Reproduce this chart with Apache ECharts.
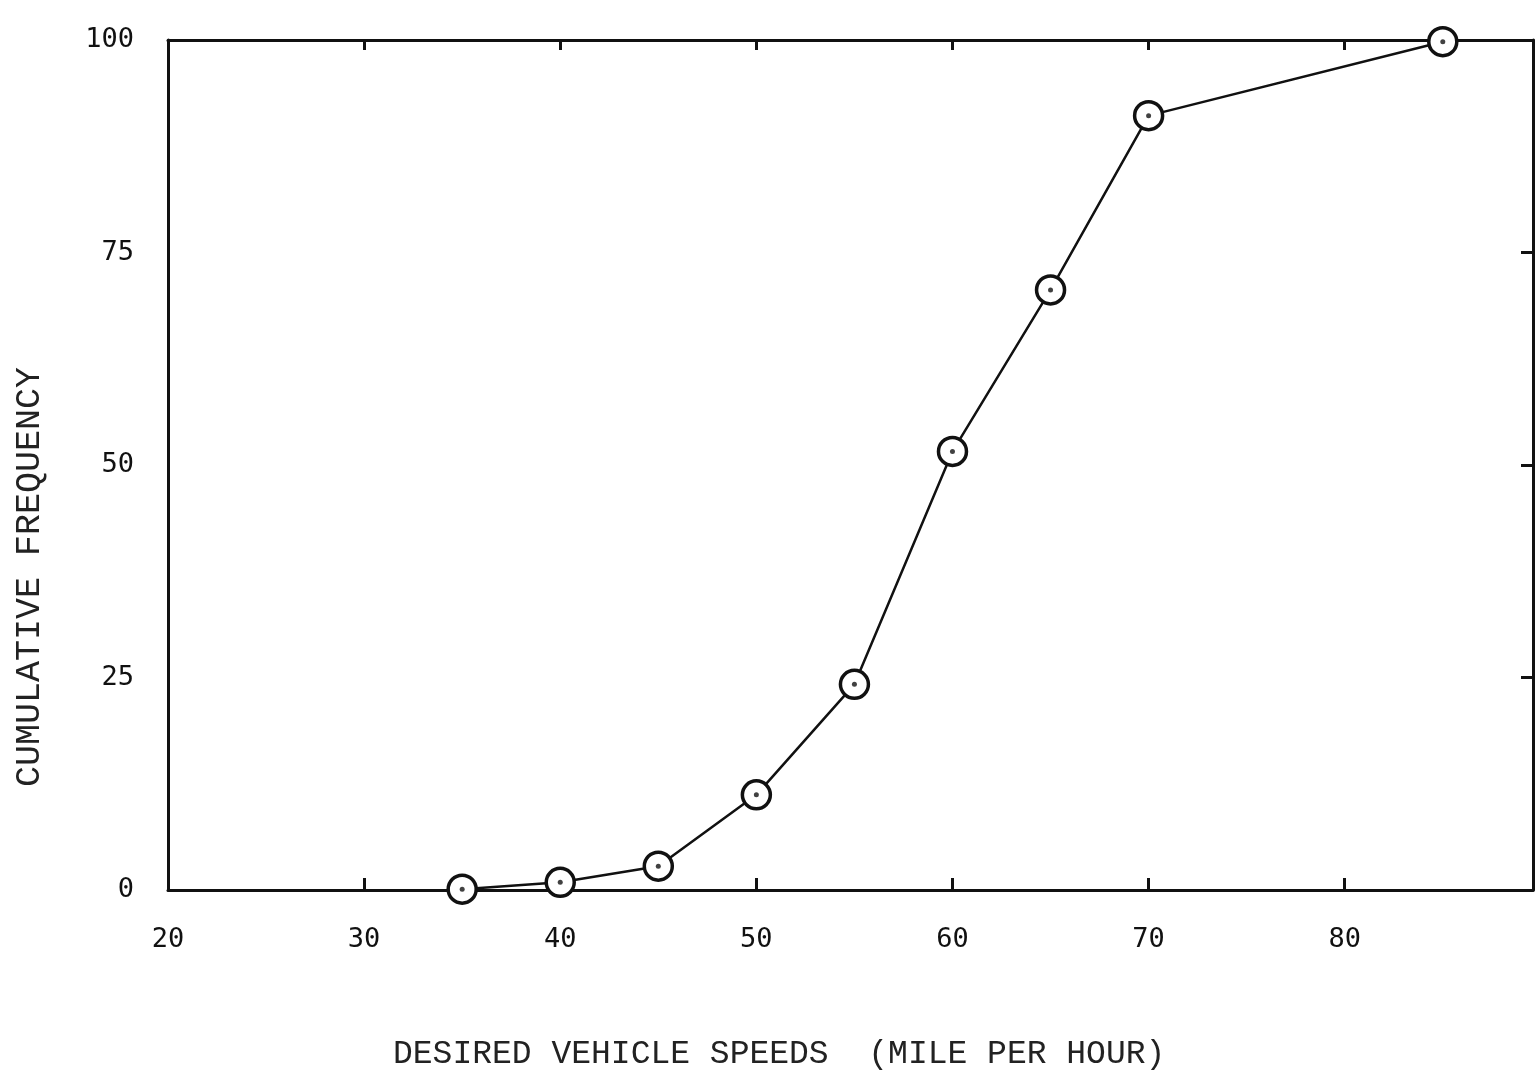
<!DOCTYPE html>
<html>
<head>
<meta charset="utf-8">
<script src="https://cdn.jsdelivr.net/npm/echarts@6/dist/echarts.min.js"></script>
<style>
  html, body { margin: 0; padding: 0; background: #fff; }
  #chart { width: 1535px; height: 1078px; }
</style>
</head>
<body>
<div id="chart"></div>
<script>
// desired speed (mph) vs cumulative frequency (%)
const speeds = [35, 40, 45, 50, 55, 60, 65, 70, 85];
const cumFreq = [0.1, 0.9, 2.8, 11.2, 24.2, 51.6, 70.6, 91.1, 99.8];
const xTitle = "DESIRED VEHICLE SPEEDS  (MILE PER HOUR)";
const yTitle = "CUMULATIVE FREQUENCY";

const points = speeds.map((s, i) => [s, cumFreq[i]]);
const INK = "#111";
const tickFont = {
  color: INK,
  fontFamily: "DejaVu Sans Mono",
  fontSize: 27
};

const chart = echarts.init(document.getElementById("chart"));

const option = {
  animation: false,
  backgroundColor: "#fff",
  grid: { left: 168, right: 2, top: 40, bottom: 188 },
  xAxis: [
    {
      type: "value",
      position: "bottom",
      min: 20,
      max: 89.6,
      interval: 10,
      axisLine: { onZero: false, lineStyle: { color: INK, width: 3 } },
      axisTick: { inside: true, length: 12, lineStyle: { color: INK, width: 3 } },
      splitLine: { show: false },
      axisLabel: Object.assign({ margin: 36, showMaxLabel: false }, tickFont)
    },
    {
      type: "value",
      position: "top",
      min: 20,
      max: 89.6,
      interval: 10,
      axisLine: { onZero: false, lineStyle: { color: INK, width: 3 } },
      axisTick: { inside: true, length: 10, lineStyle: { color: INK, width: 3 } },
      splitLine: { show: false },
      axisLabel: { show: false }
    }
  ],
  yAxis: [
    {
      type: "value",
      position: "left",
      min: 0,
      max: 100,
      interval: 25,
      axisLine: { show: true, onZero: false, lineStyle: { color: INK, width: 3 } },
      axisTick: { show: false },
      splitLine: { show: false },
      axisLabel: Object.assign({ margin: 34 }, tickFont)
    },
    {
      type: "value",
      position: "right",
      min: 0,
      max: 100,
      interval: 25,
      axisLine: { show: true, onZero: false, lineStyle: { color: INK, width: 3 } },
      axisTick: { inside: true, length: 12, lineStyle: { color: INK, width: 3 } },
      splitLine: { show: false },
      axisLabel: { show: false }
    }
  ],
  graphic: [
    {
      type: "text",
      left: 393,
      top: 1038,
      style: {
        text: xTitle,
        fill: "#222",
        font: "33px 'Liberation Mono'"
      }
    },
    {
      type: "text",
      x: 12,
      y: 787,
      rotation: Math.PI / 2,
      style: {
        text: yTitle,
        fill: "#222",
        font: "35px 'Liberation Mono'",
        verticalAlign: "top"
      }
    }
  ],
  series: [
    {
      type: "line",
      data: points,
      symbol: "circle",
      symbolSize: 28,
      lineStyle: { color: INK, width: 2.5 },
      itemStyle: { color: "#fff", borderColor: INK, borderWidth: 3.5 },
      z: 3
    },
    {
      // centre dot of each plotted circle
      type: "scatter",
      data: points,
      symbol: "circle",
      symbolSize: 5,
      itemStyle: { color: INK },
      z: 4
    }
  ]
};

chart.setOption(option);
</script>
</body>
</html>
